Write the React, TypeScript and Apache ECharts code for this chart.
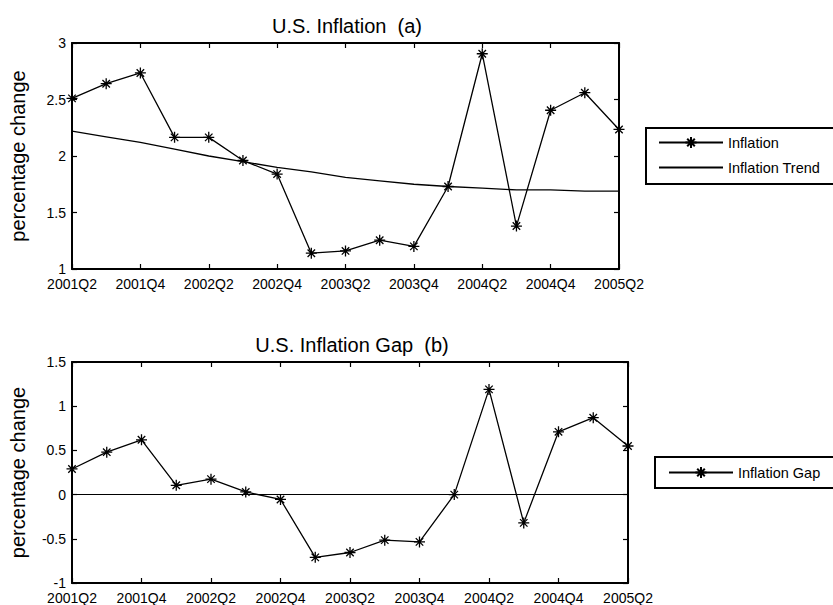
import React, { useEffect, useRef } from "react";
import * as echarts from "echarts";

const quarters = [
  "2001Q2", "2001Q3", "2001Q4", "2002Q1", "2002Q2", "2002Q3", "2002Q4", "2003Q1",
  "2003Q2", "2003Q3", "2003Q4", "2004Q1", "2004Q2", "2004Q3", "2004Q4", "2005Q1", "2005Q2",
];
const inflation = [2.51, 2.64, 2.735, 2.165, 2.165, 1.96, 1.84, 1.14, 1.16, 1.255, 1.2, 1.73, 2.905, 1.38, 2.405, 2.56, 2.235];
const inflationTrend = [2.22, 2.17, 2.12, 2.06, 2.0, 1.95, 1.9, 1.86, 1.81, 1.78, 1.75, 1.73, 1.715, 1.7, 1.7, 1.69, 1.69];
const inflationGap = [0.29, 0.48, 0.62, 0.105, 0.175, 0.03, -0.055, -0.71, -0.655, -0.515, -0.535, 0.0, 1.19, -0.32, 0.71, 0.87, 0.55];

const topTitle = "U.S. Inflation  (a)";
const bottomTitle = "U.S. Inflation Gap  (b)";
const yName = "percentage change";

const FONT = 'Arial, "Liberation Sans", Helvetica, sans-serif';
const STAR = "path://M5,0L5,10M0,5L10,5M1.6,1.6L8.4,8.4M1.6,8.4L8.4,1.6";

export default function App() {
  const ref = useRef<HTMLDivElement>(null);

  useEffect(() => {
    if (!ref.current) return;
    const chart = echarts.init(ref.current, undefined, { renderer: "svg" });

    const axisLine = { show: true, onZero: false, lineStyle: { color: "#000", width: 2 } };
    const tickIn = { show: true, inside: true, length: 5, lineStyle: { color: "#000", width: 1.2 } };

    const catBottom = (gridIndex: number) => ({
      type: "category" as const,
      gridIndex,
      data: quarters,
      boundaryGap: false,
      position: "bottom" as const,
      axisLine,
      axisTick: { ...tickIn, interval: 1 },
      axisLabel: { interval: 1, color: "#000", fontSize: 14, lineHeight: 14, fontFamily: FONT, margin: 8 },
      splitLine: { show: false },
    });
    const catTop = (gridIndex: number) => ({
      type: "category" as const,
      gridIndex,
      data: quarters,
      boundaryGap: false,
      position: "top" as const,
      axisLine,
      axisTick: { ...tickIn, interval: 1 },
      axisLabel: { show: false },
      splitLine: { show: false },
    });
    const valLeft = (gridIndex: number, min: number, max: number) => ({
      type: "value" as const,
      gridIndex,
      min,
      max,
      interval: 0.5,
      position: "left" as const,
      name: yName,
      nameLocation: "middle" as const,
      nameGap: 44,
      nameTextStyle: { color: "#000", fontSize: 20, fontFamily: FONT },
      axisLine,
      axisTick: tickIn,
      axisLabel: { color: "#000", fontSize: 14, lineHeight: 12, fontFamily: FONT, margin: 6 },
      splitLine: { show: false },
    });
    const valRight = (gridIndex: number, min: number, max: number) => ({
      type: "value" as const,
      gridIndex,
      min,
      max,
      interval: 0.5,
      position: "right" as const,
      axisLine,
      axisTick: tickIn,
      axisLabel: { show: false },
      splitLine: { show: false },
    });

    const starStyle = {
      symbol: STAR,
      symbolSize: 11,
      showSymbol: true,
      itemStyle: { color: "#000", borderColor: "#000", borderWidth: 1.3 },
      lineStyle: { color: "#000", width: 1.3 },
    };

    const legendText = { color: "#000", fontSize: 14.5, fontFamily: FONT };

    chart.setOption({
      animation: false,
      backgroundColor: "#fff",
      title: [
        {
          text: topTitle,
          left: 342,
          top: 11,
          textAlign: "center",
          textStyle: { color: "#000", fontSize: 20, fontWeight: "normal", fontFamily: FONT },
        },
        {
          text: bottomTitle,
          left: 347,
          top: 330,
          textAlign: "center",
          textStyle: { color: "#000", fontSize: 20, fontWeight: "normal", fontFamily: FONT },
        },
      ],
      legend: [
        {
          data: [
            "Inflation",
            {
              name: "Inflation Trend",
              itemStyle: { color: "rgba(0,0,0,0)", borderColor: "rgba(0,0,0,0)", opacity: 0 },
            },
          ],
          orient: "vertical",
          left: 646,
          top: 128,
          itemWidth: 64,
          itemHeight: 14,
          itemGap: 10,
          padding: [7, 18, 9, 12],
          borderColor: "#000",
          borderWidth: 2,
          backgroundColor: "#fff",
          textStyle: legendText,
        },
        {
          data: ["Inflation Gap"],
          orient: "vertical",
          left: 655,
          top: 457,
          itemWidth: 64,
          itemHeight: 14,
          padding: [8, 24, 8, 13],
          borderColor: "#000",
          borderWidth: 2,
          backgroundColor: "#fff",
          textStyle: legendText,
        },
      ],
      grid: [
        { left: 69, top: 43, width: 550, height: 226, containLabel: false },
        { left: 69, top: 362, width: 559, height: 222, containLabel: false },
      ],
      xAxis: [catBottom(0), catTop(0), catBottom(1), catTop(1)],
      yAxis: [valLeft(0, 1, 3), valRight(0, 1, 3), valLeft(1, -1, 1.5), valRight(1, -1, 1.5)],
      series: [
        {
          name: "Inflation",
          type: "line",
          xAxisIndex: 0,
          yAxisIndex: 0,
          data: inflation,
          ...starStyle,
          z: 3,
        },
        {
          name: "Inflation Trend",
          type: "line",
          xAxisIndex: 0,
          yAxisIndex: 0,
          data: inflationTrend,
          symbol: "none",
          itemStyle: { color: "#000" },
          lineStyle: { color: "#000", width: 1.3 },
          z: 2,
        },
        {
          name: "Inflation Gap",
          type: "line",
          xAxisIndex: 2,
          yAxisIndex: 2,
          data: inflationGap,
          ...starStyle,
          z: 3,
          markLine: {
            silent: true,
            symbol: ["none", "none"],
            label: { show: false },
            lineStyle: { color: "#000", width: 1.2, type: "solid" },
            data: [{ yAxis: 0 }],
          },
        },
      ],
    });

    return () => chart.dispose();
  }, []);

  return (
    <div
      ref={ref}
      style={{ position: "fixed", left: 0, top: 0, width: 833, height: 605, background: "#fff" }}
    />
  );
}
